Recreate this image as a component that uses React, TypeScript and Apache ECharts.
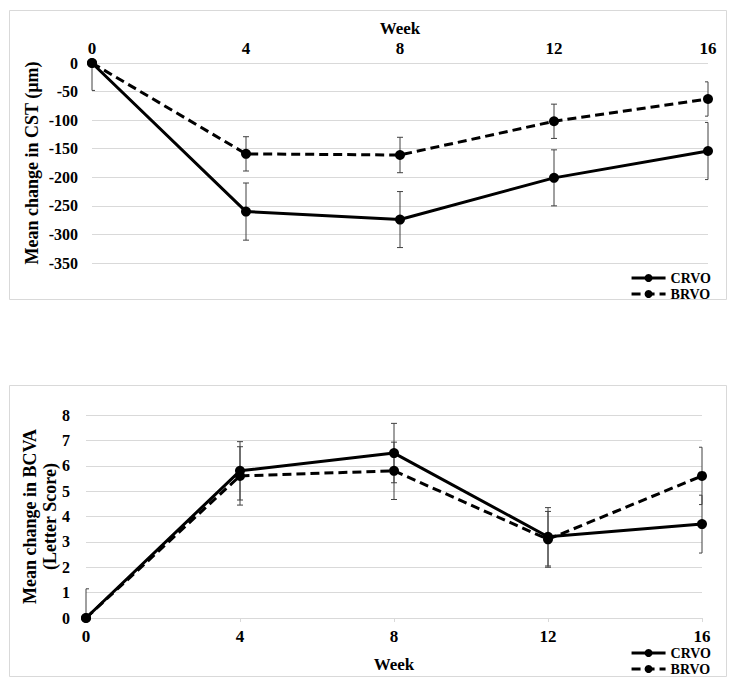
import React, { useEffect, useRef } from "react";
import * as echarts from "echarts";

const weeks = [0, 4, 8, 12, 16];
const cstCRVO = [0, -260, -274, -201, -154];
const cstCRVOErr = [48, 50, 49, 49, 50];
const cstBRVO = [0, -159, -161, -102, -63];
const cstBRVOErr = [0, 30, 31, 30, 30];
const bcvaCRVO = [0, 5.8, 6.5, 3.2, 3.7];
const bcvaCRVOErr = [1.15, 1.15, 1.17, 1.15, 1.14];
const bcvaBRVO = [0, 5.6, 5.8, 3.1, 5.6];
const bcvaBRVOErr = [0, 1.15, 1.13, 1.1, 1.13];

const FONT = '"Liberation Serif", "Times New Roman", serif';
const txt = (size: number) => ({ fontFamily: FONT, fontWeight: "bold" as const, fontSize: size, color: "#000" });

function errRender(params: any, api: any) {
  const cs = params.coordSys;
  const x = api.value(0), y = api.value(1), e = api.value(2);
  const hi = api.coord([x, y + e]);
  const lo = api.coord([x, y - e]);
  const top = cs.y, bot = cs.y + cs.height, left = cs.x, right = cs.x + cs.width;
  const clampY = (v: number) => Math.min(bot, Math.max(top, v));
  const style = { stroke: "#404040", lineWidth: 1 };
  const w = 3;
  const children: any[] = [
    { type: "line", shape: { x1: hi[0], y1: clampY(hi[1]), x2: lo[0], y2: clampY(lo[1]) }, style },
  ];
  for (const p of [hi, lo]) {
    if (p[1] >= top - 0.5 && p[1] <= bot + 0.5) {
      children.push({
        type: "line",
        shape: { x1: Math.max(left, p[0] - w), y1: p[1], x2: Math.min(right, p[0] + w), y2: p[1] },
        style,
      });
    }
  }
  return { type: "group", children };
}

const lineSeries = (name: string, vals: number[], dashed: boolean, idx: number) => ({
  type: "line",
  name,
  xAxisIndex: idx,
  yAxisIndex: idx,
  data: weeks.map((w, i) => [w, vals[i]]),
  symbol: "circle",
  symbolSize: 10,
  itemStyle: { color: "#000" },
  lineStyle: { color: "#000", width: 3, type: dashed ? [9, 5] : "solid" },
  z: 3,
});

const errSeries = (name: string, vals: number[], errs: number[], idx: number) => ({
  type: "custom",
  name: name + " error",
  xAxisIndex: idx,
  yAxisIndex: idx,
  data: weeks.map((w, i) => [w, vals[i], errs[i]]),
  encode: { x: 0, y: 1 },
  renderItem: errRender,
  z: 2,
  silent: true,
});

const legendBase = {
  data: ["CRVO", "BRVO"],
  orient: "vertical",
  right: 24,
  itemGap: 2,
  padding: 0,
  itemWidth: 34,
  itemHeight: 10,
  lineStyle: { width: 3 },
  textStyle: txt(14),
};

export default function App() {
  const ref = useRef<HTMLDivElement>(null);
  useEffect(() => {
    if (!ref.current) return;
    const chart = echarts.init(ref.current, null, { renderer: "svg" });
    chart.setOption({
      animation: false,
      backgroundColor: "#fff",
      graphic: [
        { type: "rect", shape: { x: 9.5, y: 10.5, width: 717, height: 289 }, style: { fill: "none", stroke: "#d9d9d9", lineWidth: 1 } },
        { type: "rect", shape: { x: 9.5, y: 385.5, width: 717, height: 291 }, style: { fill: "none", stroke: "#d9d9d9", lineWidth: 1 } },
      ],
      grid: [
        { left: 92, right: 27, top: 63, height: 200 },
        { left: 86, right: 33, top: 415, height: 203 },
      ],
      legend: [
        { ...legendBase, top: 271 },
        { ...legendBase, top: 646 },
      ],
      xAxis: [
        {
          gridIndex: 0, type: "value", position: "top", min: 0, max: 16, interval: 4,
          axisLine: { show: false }, axisTick: { show: false }, splitLine: { show: false },
          axisLabel: { ...txt(17), margin: 6 },
          name: "Week", nameLocation: "middle", nameGap: 26, nameTextStyle: txt(17),
          nameMoveOverlap: false,
        },
        {
          gridIndex: 1, type: "value", min: 0, max: 16, interval: 4,
          axisLine: { show: true, lineStyle: { color: "#d9d9d9", width: 1 } },
          axisTick: { show: true, length: 4, lineStyle: { color: "#d9d9d9" } },
          splitLine: { show: false },
          axisLabel: { ...txt(17), margin: 10 },
          name: "Week", nameLocation: "middle", nameGap: 38, nameTextStyle: txt(17),
          nameMoveOverlap: false,
        },
      ],
      yAxis: [
        {
          gridIndex: 0, type: "value", min: -350, max: 0, interval: 50,
          axisLine: { show: false }, axisTick: { show: false },
          splitLine: { lineStyle: { color: "#d9d9d9", width: 1 } },
          axisLabel: { ...txt(16), margin: 14 },
          name: "Mean change in CST (µm)", nameLocation: "middle", nameRotate: 90, nameGap: 51,
          nameTextStyle: txt(18), nameMoveOverlap: false,
        },
        {
          gridIndex: 1, type: "value", min: 0, max: 8, interval: 1,
          axisLine: { show: false }, axisTick: { show: false },
          splitLine: { lineStyle: { color: "#d9d9d9", width: 1 } },
          axisLabel: { ...txt(16), margin: 16 },
          name: "Mean change in BCVA\n(Letter Score)", nameLocation: "middle", nameRotate: 90, nameGap: 26,
          nameTextStyle: { ...txt(18), lineHeight: 20 }, nameMoveOverlap: false,
        },
      ],
      series: [
        lineSeries("CRVO", cstCRVO, false, 0),
        lineSeries("BRVO", cstBRVO, true, 0),
        lineSeries("CRVO", bcvaCRVO, false, 1),
        lineSeries("BRVO", bcvaBRVO, true, 1),
        errSeries("CRVO", cstCRVO, cstCRVOErr, 0),
        errSeries("BRVO", cstBRVO, cstBRVOErr, 0),
        errSeries("CRVO", bcvaCRVO, bcvaCRVOErr, 1),
        errSeries("BRVO", bcvaBRVO, bcvaBRVOErr, 1),
      ],
    });
    return () => chart.dispose();
  }, []);
  return (
    <div
      ref={ref}
      style={{ position: "absolute", left: 0, top: 0, width: 735, height: 683, background: "#fff" }}
    />
  );
}
